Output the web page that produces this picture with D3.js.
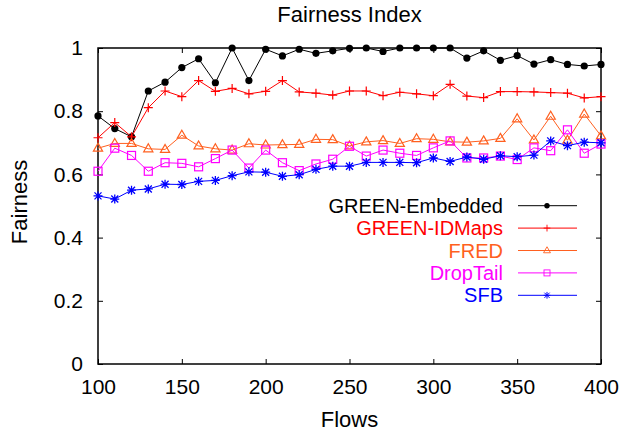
<!DOCTYPE html>
<html>
<head>
<meta charset="utf-8">
<script src="https://cdn.jsdelivr.net/npm/d3@7"></script>
<style>
  body { margin: 0; background: #fff; }
  svg { font-family: "Liberation Sans", Arial, sans-serif; }
</style>
</head>
<body>
<svg id="chart" width="621" height="436"></svg>
<script>
// flows on x axis
var flows = [100, 110, 120, 130, 140, 150, 160, 170, 180, 190, 200, 210, 220, 230, 240, 250,
             260, 270, 280, 290, 300, 310, 320, 330, 340, 350, 360, 370, 380, 390, 400];

var greenEmbedded = [0.785, 0.745, 0.719, 0.864, 0.892, 0.938, 0.966, 0.890, 1.000, 0.897, 0.996,
                     0.975, 0.996, 0.983, 0.991, 0.999, 1.000, 0.989, 1.000, 1.000, 1.000, 1.000,
                     0.968, 0.991, 0.961, 0.976, 0.949, 0.963, 0.948, 0.943, 0.948];
var greenIDMaps = [0.716, 0.764, 0.719, 0.811, 0.864, 0.846, 0.897, 0.863, 0.872, 0.855, 0.863,
                   0.897, 0.861, 0.857, 0.851, 0.864, 0.864, 0.849, 0.860, 0.855, 0.849, 0.885,
                   0.848, 0.843, 0.862, 0.862, 0.861, 0.859, 0.857, 0.842, 0.846];
var fred = [0.683, 0.698, 0.698, 0.681, 0.679, 0.724, 0.690, 0.681, 0.677, 0.697, 0.693,
            0.694, 0.695, 0.711, 0.710, 0.690, 0.703, 0.707, 0.698, 0.713, 0.711, 0.703,
            0.702, 0.706, 0.714, 0.776, 0.709, 0.784, 0.708, 0.791, 0.722];
var dropTail = [0.610, 0.683, 0.660, 0.610, 0.637, 0.635, 0.624, 0.650, 0.677, 0.620, 0.677,
                0.637, 0.612, 0.633, 0.648, 0.689, 0.658, 0.677, 0.667, 0.660, 0.684, 0.706,
                0.652, 0.652, 0.658, 0.647, 0.684, 0.675, 0.741, 0.667, 0.696];
var sfb = [0.532, 0.522, 0.550, 0.554, 0.569, 0.568, 0.578, 0.581, 0.596, 0.608, 0.607,
           0.594, 0.599, 0.616, 0.626, 0.626, 0.638, 0.638, 0.638, 0.637, 0.652, 0.641,
           0.655, 0.648, 0.659, 0.656, 0.661, 0.706, 0.691, 0.702, 0.700];

var xTicks = [100, 150, 200, 250, 300, 350, 400];
var yTicks = [0, 0.2, 0.4, 0.6, 0.8, 1];

var series = [
    { name: "GREEN-Embedded", values: greenEmbedded, color: "#000000", marker: "circle" },
    { name: "GREEN-IDMaps", values: greenIDMaps, color: "#ff0000", marker: "plus" },
    { name: "FRED", values: fred, color: "#ff6020", marker: "triangle" },
    { name: "DropTail", values: dropTail, color: "#ff00ff", marker: "square" },
    { name: "SFB", values: sfb, color: "#0000ff", marker: "star" }
];

var w = 621, h = 436;
var margin = { top: 48, right: 20, bottom: 72, left: 98 };

var svg = d3.select("#chart");

var xScale = d3.scaleLinear().domain([100, 400]).range([margin.left, w - margin.right]);
var yScale = d3.scaleLinear().domain([0, 1]).range([h - margin.bottom, margin.top]);

// axes with inward ticks, mirrored on top and right
function styleAxis(g) {
    g.select(".domain").remove();
    g.selectAll("line").attr("stroke", "#000").attr("stroke-width", 1);
    g.selectAll("text").attr("fill", "#000").style("font-size", "21px");
}

svg.append("g")
    .attr("transform", `translate(0,${h - margin.bottom})`)
    .call(d3.axisBottom(xScale).tickValues(xTicks).tickSize(-5).tickPadding(15).tickFormat(d3.format("d")))
    .call(styleAxis);

svg.append("g")
    .attr("transform", `translate(0,${margin.top})`)
    .call(d3.axisTop(xScale).tickValues(xTicks).tickSize(-5).tickFormat(""))
    .call(styleAxis);

svg.append("g")
    .attr("transform", `translate(${margin.left},0)`)
    .call(d3.axisLeft(yScale).tickValues(yTicks).tickSize(-5).tickPadding(15).tickFormat(d => d === 0 || d === 1 ? d3.format("d")(d) : d3.format(".1f")(d)))
    .call(styleAxis);

svg.append("g")
    .attr("transform", `translate(${w - margin.right},0)`)
    .call(d3.axisRight(yScale).tickValues(yTicks).tickSize(-5).tickFormat(""))
    .call(styleAxis);

// frame
svg.append("rect")
    .attr("x", margin.left)
    .attr("y", margin.top)
    .attr("width", w - margin.left - margin.right)
    .attr("height", h - margin.top - margin.bottom)
    .attr("fill", "none")
    .attr("stroke", "#000")
    .attr("stroke-width", 1.5);

// marker drawing
function drawMarker(g, type, color) {
    if (type === "circle") {
        g.append("circle").attr("r", 3.6).attr("fill", color);
    } else if (type === "plus") {
        g.append("path").attr("d", "M-4.5,0H4.5M0,-4.5V4.5").attr("stroke", color).attr("stroke-width", 1.2);
    } else if (type === "triangle") {
        g.append("path").attr("d", "M0,-5L4.6,3L-4.6,3Z").attr("fill", "none").attr("stroke", color).attr("stroke-width", 1.2);
    } else if (type === "square") {
        g.append("rect").attr("x", -4).attr("y", -4).attr("width", 8).attr("height", 8)
            .attr("fill", "none").attr("stroke", color).attr("stroke-width", 1.2);
    } else if (type === "star") {
        g.append("path").attr("d", "M-4.5,0H4.5M0,-4.5V4.5M-3.5,-3.5L3.5,3.5M-3.5,3.5L3.5,-3.5")
            .attr("stroke", color).attr("stroke-width", 1.3);
    }
}

var line = d3.line()
    .x((d, i) => xScale(flows[i]))
    .y(d => yScale(d));

series.forEach(function(s) {
    svg.append("path")
        .datum(s.values)
        .attr("fill", "none")
        .attr("stroke", s.color)
        .attr("stroke-width", 1)
        .attr("d", line);

    svg.selectAll(null)
        .data(s.values)
        .enter().append("g")
        .attr("transform", (d, i) => `translate(${xScale(flows[i])},${yScale(d)})`)
        .each(function() { drawMarker(d3.select(this), s.marker, s.color); });
});

// legend
var legend = svg.append("g").attr("class", "legend");
series.forEach(function(s, i) {
    var ly = 205.7 + i * 22.4;
    legend.append("text")
        .attr("x", 503)
        .attr("y", ly + 7)
        .attr("text-anchor", "end")
        .attr("fill", s.color)
        .style("font-size", "20px")
        .text(s.name);
    legend.append("line")
        .attr("x1", 518).attr("x2", 577)
        .attr("y1", ly).attr("y2", ly)
        .attr("stroke", s.color)
        .attr("stroke-width", 1);
    var mg = legend.append("g").attr("transform", `translate(547,${ly})`);
    drawMarker(mg, s.marker, s.color);
    mg.selectAll("*").attr("transform", "scale(0.75)");
});

// title and axis labels
svg.append("text")
    .attr("x", (margin.left + w - margin.right) / 2)
    .attr("y", 21.5)
    .attr("text-anchor", "middle")
    .style("font-size", "22px")
    .text("Fairness Index");

svg.append("text")
    .attr("x", (margin.left + w - margin.right) / 2)
    .attr("y", 426.5)
    .attr("text-anchor", "middle")
    .style("font-size", "22px")
    .text("Flows");

svg.append("text")
    .attr("transform", "translate(26.5,202) rotate(-90)")
    .attr("text-anchor", "middle")
    .style("font-size", "22px")
    .text("Fairness");
</script>
</body>
</html>
